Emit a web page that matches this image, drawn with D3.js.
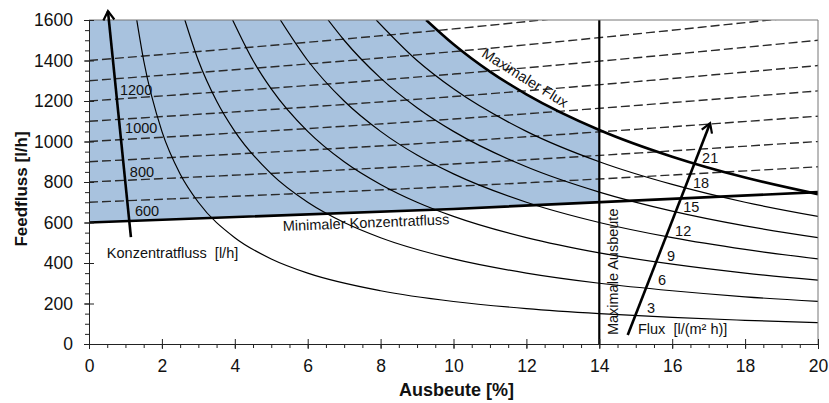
<!DOCTYPE html>
<html>
<head>
<meta charset="utf-8">
<script src="https://cdn.jsdelivr.net/npm/d3@7"></script>
<style>
body { margin: 0; background: #fff; }
text { font-family: "Liberation Sans", Arial, sans-serif; fill: #111; }
</style>
</head>
<body>
<svg id="chart"></svg>
<script>
var W = 829, H = 403;
var margin = {left: 89, top: 20, right: 11, bottom: 59};

// Flux iso-lines [l/(m² h)], points read as [Ausbeute %, Feedfluss l/h]
var fluxValues = [3, 6, 9, 12, 15, 18];
var fluxCurves = [
    [[1.31,1600],[1.5,1400],[2,1050],[2.5,840],[3,700],[4,525],[5,420],[6,350],[8,263],[10,210],[12,175],[14,150],[16,131],[18,117],[20,105]],
    [[2.63,1600],[3,1400],[3.5,1200],[4,1050],[5,840],[6,700],[7,600],[8,525],[10,420],[12,350],[14,300],[16,263],[18,233],[20,210]],
    [[3.94,1600],[4.5,1400],[5,1260],[6,1050],[7,900],[8,788],[9,700],[10,630],[12,525],[14,450],[16,394],[18,350],[20,315]],
    [[5.25,1600],[6,1400],[7,1200],[8,1050],[9,933],[10,840],[12,700],[14,600],[16,525],[18,467],[20,420]],
    [[6.56,1600],[7,1500],[8,1313],[9,1167],[10,1050],[12,875],[14,750],[16,656],[18,583],[20,525]],
    [[7.88,1600],[9,1400],[10,1260],[12,1050],[14,900],[16,788],[18,700],[20,630]]
];
// Maximaler Flux (21)
var maxFluxCurve = [[9.25,1600],[10,1480],[11,1345],[12,1233],[14,1057],[16,925],[18,822],[20,740]];

// Konzentratfluss iso-lines [l/h]
var concValues = [700, 800, 900, 1000, 1100, 1200, 1300, 1400];
var concLines = [
    [[0,700],[10,778],[20,875]],
    [[0,800],[10,889],[20,1000]],
    [[0,900],[10,1000],[20,1125]],
    [[0,1000],[10,1111],[20,1250]],
    [[0,1100],[10,1222],[20,1375]],
    [[0,1200],[10,1333],[20,1500]],
    [[0,1300],[10,1444],[20,1625]],
    [[0,1400],[10,1556],[20,1750]]
];
// Minimaler Konzentratfluss (600)
var minConcLine = [[0,600],[10,667],[20,750]];
var maxYield = 14;

var xTicks = [0, 2, 4, 6, 8, 10, 12, 14, 16, 18, 20];
var yTicks = [0, 200, 400, 600, 800, 1000, 1200, 1400, 1600];

// label anchors [Ausbeute, Feedfluss, text]
var concLabels = [[1.26,632,"600"],[1.12,825,"800"],[0.99,1042,"1000"],[0.85,1230,"1200"]];
var fluxLabels = [[15.31,153,"3"],[15.61,291,"6"],[15.86,410,"9"],[16.08,533,"12"],[16.30,652,"15"],[16.57,770,"18"],[16.82,894,"21"]];
var konzArrow = [[1.15,528],[0.52,1644]];
var fluxArrow = [[14.78,44],[17.04,1090]];

var x = d3.scaleLinear().domain([0, 20]).range([margin.left, W - margin.right]);
var y = d3.scaleLinear().domain([0, 1600]).range([H - margin.bottom, margin.top]);

var svg = d3.select("#chart").attr("width", W).attr("height", H);
var defs = svg.append("defs");

var line = d3.line()
    .x(function(d){ return x(d[0]); })
    .y(function(d){ return y(d[1]); })
    .curve(d3.curveMonotoneX);

defs.append("clipPath").attr("id", "plotClip").append("rect")
    .attr("x", x(0)).attr("y", y(1600))
    .attr("width", x(20) - x(0)).attr("height", y(0) - y(1600));
defs.append("clipPath").attr("id", "yieldClip").append("rect")
    .attr("x", x(0)).attr("y", y(1600))
    .attr("width", x(maxYield) - x(0)).attr("height", y(0) - y(1600));
defs.append("clipPath").attr("id", "aboveMin").append("path")
    .attr("d", line(minConcLine) + "L" + x(20) + "," + y(1600) + "L" + x(0) + "," + y(1600) + "Z");

defs.append("marker")
    .attr("id", "arrow")
    .attr("markerUnits", "userSpaceOnUse")
    .attr("viewBox", "-12 -7 14 14")
    .attr("markerWidth", 14).attr("markerHeight", 14)
    .attr("refX", 0).attr("refY", 0)
    .attr("orient", "auto")
  .append("path")
    .attr("d", "M-9,-5.5L0,0L-9,5.5")
    .attr("fill", "none").attr("stroke", "#000").attr("stroke-width", 2.2);

// operating window (blue)
svg.append("g").attr("clip-path", "url(#yieldClip)")
  .append("g").attr("clip-path", "url(#aboveMin)")
  .append("path")
    .attr("d", line(maxFluxCurve) + "L" + x(20) + "," + y(0) + "L" + x(0) + "," + y(0) + "L" + x(0) + "," + y(1600) + "Z")
    .attr("fill", "#a8c2de");

var plot = svg.append("g").attr("clip-path", "url(#plotClip)");

plot.selectAll(".conc")
    .data(concLines)
    .enter().append("path")
    .attr("class", "conc")
    .attr("d", line)
    .attr("fill", "none")
    .attr("stroke", "#2a2a2a")
    .attr("stroke-width", 1.4)
    .attr("stroke-dasharray", "9,4");

plot.selectAll(".flux")
    .data(fluxCurves)
    .enter().append("path")
    .attr("class", "flux")
    .attr("d", line)
    .attr("fill", "none")
    .attr("stroke", "#000")
    .attr("stroke-width", 1.2);

plot.append("path").attr("d", line(maxFluxCurve))
    .attr("fill", "none").attr("stroke", "#000").attr("stroke-width", 2.6);
plot.append("path").attr("d", line(minConcLine))
    .attr("fill", "none").attr("stroke", "#000").attr("stroke-width", 2.6);
plot.append("line")
    .attr("x1", x(maxYield)).attr("x2", x(maxYield))
    .attr("y1", y(0)).attr("y2", y(1600))
    .attr("stroke", "#000").attr("stroke-width", 2.2);

// frame top/right
svg.append("path")
    .attr("d", "M" + x(0) + "," + y(1600) + "H" + x(20) + "V" + y(0))
    .attr("fill", "none").attr("stroke", "#777").attr("stroke-width", 1);

// axes
var minorX = d3.range(0, 20.01, 0.5), minorY = d3.range(0, 1600.1, 50);
function styleAxis(g){
    g.selectAll("line").attr("stroke", "#222");
    g.selectAll(".domain").attr("stroke", "#222");
    g.selectAll("text").style("font-size", "17.5px").attr("fill", "#111");
}
svg.append("g").attr("transform", "translate(0," + y(0) + ")")
    .call(d3.axisBottom(x).tickValues(minorX).tickSize(4).tickFormat(""))
    .call(function(g){ g.select(".domain").remove(); }).call(styleAxis);
svg.append("g").attr("transform", "translate(0," + y(0) + ")")
    .call(d3.axisBottom(x).tickValues(xTicks).tickSize(-5).tickFormat(""))
    .call(function(g){ g.select(".domain").remove(); }).call(styleAxis);
svg.append("g").attr("transform", "translate(0," + y(0) + ")")
    .call(d3.axisBottom(x).tickValues(xTicks).tickSizeInner(5).tickSizeOuter(0).tickPadding(11).tickFormat(d3.format("d")))
    .call(styleAxis);

svg.append("g").attr("transform", "translate(" + x(0) + ",0)")
    .call(d3.axisLeft(y).tickValues(minorY).tickSize(4).tickFormat(""))
    .call(function(g){ g.select(".domain").remove(); }).call(styleAxis);
svg.append("g").attr("transform", "translate(" + x(0) + ",0)")
    .call(d3.axisLeft(y).tickValues(yTicks).tickSize(-5).tickFormat(""))
    .call(function(g){ g.select(".domain").remove(); }).call(styleAxis);
svg.append("g").attr("transform", "translate(" + x(0) + ",0)")
    .call(d3.axisLeft(y).tickValues(yTicks).tickSizeInner(5).tickSizeOuter(0).tickPadding(11).tickFormat(d3.format("d")))
    .call(styleAxis);

// axis titles
svg.append("text")
    .attr("x", (x(0) + x(20)) / 2 + 3).attr("y", 396)
    .attr("text-anchor", "middle")
    .style("font-size", "18px").style("font-weight", "bold")
    .text("Ausbeute [%]");
svg.append("text")
    .attr("transform", "translate(27," + (y(800) + 7) + ") rotate(-90)")
    .attr("text-anchor", "middle")
    .style("font-size", "17px").style("font-weight", "bold")
    .text("Feedfluss [l/h]");

// arrows
[konzArrow, fluxArrow].forEach(function(a){
    svg.append("line")
        .attr("x1", x(a[0][0])).attr("y1", y(a[0][1]))
        .attr("x2", x(a[1][0])).attr("y2", y(a[1][1]))
        .attr("stroke", "#000").attr("stroke-width", 2.6)
        .attr("marker-end", "url(#arrow)");
});

// value labels
svg.selectAll(".clab").data(concLabels).enter().append("text")
    .attr("x", function(d){ return x(d[0]); }).attr("y", function(d){ return y(d[1]); })
    .style("font-size", "14.5px").text(function(d){ return d[2]; });
svg.selectAll(".flab").data(fluxLabels).enter().append("text")
    .attr("x", function(d){ return x(d[0]); }).attr("y", function(d){ return y(d[1]); })
    .style("font-size", "14.5px").text(function(d){ return d[2]; });

function note(px, py, angle, size, txt){
    svg.append("text")
        .attr("transform", "translate(" + x(px) + "," + y(py) + ") rotate(" + angle + ")")
        .style("font-size", size + "px")
        .style("white-space", "pre")
        .text(txt);
}
note(10.75, 1422, 32, 14.5, "Maximaler Flux");
note(5.32, 558, -2.3, 14.5, "Minimaler Konzentratfluss");
note(14.51, 44, -90, 14.5, "Maximale Ausbeute");
note(0.49, 425, 0, 14.5, "Konzentratfluss  [l/h]");
note(15.06, 49, 0, 14.5, "Flux  [l/(m\u00b2 h)]");
</script>
</body>
</html>
